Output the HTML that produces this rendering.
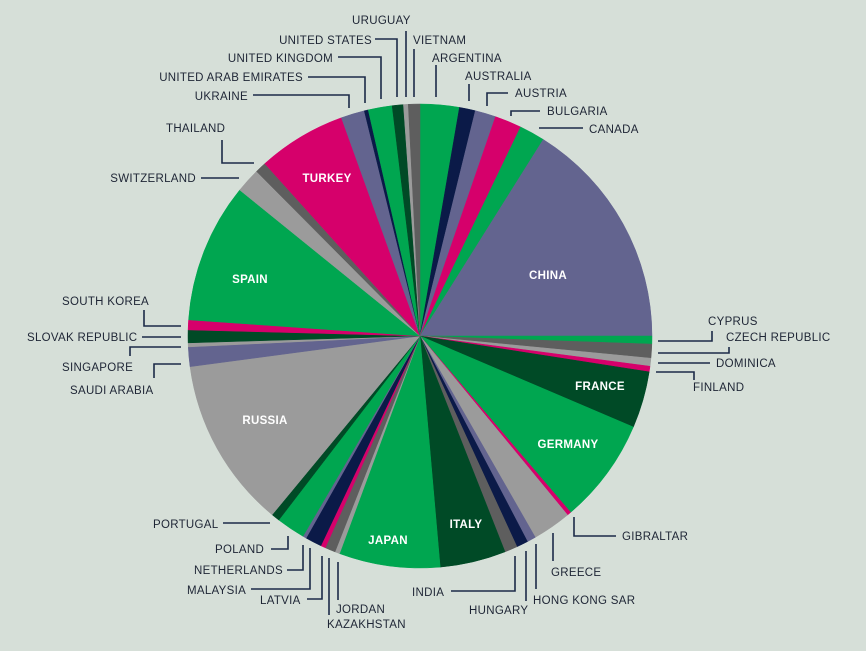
<!DOCTYPE html>
<html><head><meta charset="utf-8"><style>
html,body{margin:0;padding:0;background:#d6dfd8;}
svg{display:block}
text{font-family:"Liberation Sans",sans-serif;font-size:11.5px;fill:#1e2535;letter-spacing:0.3px;}
.in{fill:#fff;font-weight:bold;font-size:11.5px;text-anchor:middle}
line,polyline{stroke:#1c2a48;stroke-width:1.6;fill:none}
</style></head><body>
<svg id="s" width="866" height="651" viewBox="0 0 866 651" xmlns="http://www.w3.org/2000/svg">
<rect width="866" height="651" fill="#d6dfd8"/>
<g id="pie"></g>
<g>
<text class="in" x="327" y="182">TURKEY</text>
<text class="in" x="250" y="283">SPAIN</text>
<text class="in" x="548" y="279">CHINA</text>
<text class="in" x="600" y="390">FRANCE</text>
<text class="in" x="568" y="448">GERMANY</text>
<text class="in" x="265" y="424">RUSSIA</text>
<text class="in" x="466" y="528">ITALY</text>
<text class="in" x="388" y="544">JAPAN</text>
</g>
<g>
<text x="352" y="24">URUGUAY</text><line x1="406" y1="31" x2="406" y2="97"/>
<text x="372" y="44" text-anchor="end">UNITED STATES</text><polyline points="375,39 397,39 397,97"/>
<text x="413" y="44">VIETNAM</text><line x1="414" y1="49" x2="414" y2="97"/>
<text x="333" y="62" text-anchor="end">UNITED KINGDOM</text><polyline points="338,57 381,57 381,99"/>
<text x="432" y="62">ARGENTINA</text><line x1="436" y1="65" x2="436" y2="97"/>
<text x="303" y="81" text-anchor="end">UNITED ARAB EMIRATES</text><polyline points="308,77 365,77 365,103"/>
<text x="465" y="80">AUSTRALIA</text><line x1="469" y1="84" x2="469" y2="101"/>
<text x="248" y="100" text-anchor="end">UKRAINE</text><polyline points="253,95 349,95 349,108"/>
<text x="515" y="97">AUSTRIA</text><polyline points="508,93 487,93 487,106"/>
<text x="547" y="115">BULGARIA</text><polyline points="540,111 511,111 511,116"/>
<text x="589" y="133">CANADA</text><line x1="539" y1="128" x2="583" y2="128"/>
<text x="166" y="132">THAILAND</text><polyline points="222,140 222,163 254,163"/>
<text x="196" y="182" text-anchor="end">SWITZERLAND</text><line x1="201" y1="178" x2="239" y2="178"/>
<text x="62" y="305">SOUTH KOREA</text><polyline points="144,310 144,326 181,326"/>
<text x="27" y="341">SLOVAK REPUBLIC</text><line x1="142" y1="337" x2="181" y2="337"/>
<text x="62" y="371">SINGAPORE</text><polyline points="130,356 130,347 181,347"/>
<text x="70" y="394">SAUDI ARABIA</text><polyline points="154,378 154,364 181,364"/>
<text x="708" y="325">CYPRUS</text><polyline points="712,331 712,341 658,341"/>
<text x="726" y="341">CZECH REPUBLIC</text><polyline points="729,347 729,353 658,353"/>
<text x="716" y="367">DOMINICA</text><line x1="658" y1="363" x2="710" y2="363"/>
<text x="693" y="391">FINLAND</text><polyline points="656,372 694,372 694,380"/>
<text x="622" y="540">GIBRALTAR</text><polyline points="574,517 574,536 616,536"/>
<text x="551" y="576">GREECE</text><line x1="553" y1="533" x2="553" y2="561"/>
<text x="533" y="604">HONG KONG SAR</text><line x1="536" y1="544" x2="536" y2="589"/>
<text x="469" y="614">HUNGARY</text><line x1="526" y1="551" x2="526" y2="601"/>
<text x="412" y="596">INDIA</text><polyline points="451,591 515,591 515,556"/>
<text x="336" y="613">JORDAN</text><line x1="338" y1="562" x2="338" y2="600"/>
<text x="327" y="628">KAZAKHSTAN</text><line x1="329" y1="558" x2="329" y2="615"/>
<text x="260" y="604">LATVIA</text><polyline points="307,599 322,599 322,556"/>
<text x="187" y="594">MALAYSIA</text><polyline points="251,589 310,589 310,548"/>
<text x="194" y="574">NETHERLANDS</text><polyline points="287,570 303,570 303,545"/>
<text x="215" y="553">POLAND</text><polyline points="271,549 288,549 288,536"/>
<text x="153" y="528">PORTUGAL</text><line x1="223" y1="523" x2="270" y2="523"/>
</g>
</svg>
<script>
var G='#00a650',D='#004a26',L='#63648f',N='#0b1a48',P='#d6006b',A='#9b9b9b',K='#5e5e5e';
var s=[[0,9.8,G],[9.8,13.8,N],[13.8,19,L],[19,25.7,P],[25.7,32.1,G],[32.1,90,L],[90,92,G],[92,95.5,K],[95.5,97.5,A],[97.5,98.9,P],[98.9,113.1,D],[113.1,139.5,G],[139.5,140.5,P],[140.5,150.2,A],[150.2,152.4,L],[152.4,155.3,N],[155.3,158.5,K],[158.5,175,D],[175,200.3,G],[200.3,201.5,A],[201.5,204.1,K],[204.1,205.3,P],[205.3,209.4,N],[209.4,210.3,L],[210.3,217.5,G],[217.5,219.6,D],[219.6,262.4,A],[262.4,267.3,L],[267.3,268.3,A],[268.3,271.5,D],[271.5,274,P],[274,309,G],[309,315.2,A],[315.2,318,K],[318,340.2,P],[340.2,346.1,L],[346.1,347.1,N],[347.1,353.1,G],[353.1,355.9,D],[355.9,357.1,A],[357.1,360,K]];
var cx=420,cy=336,r=232,h='';
function pt(a){a=a*Math.PI/180;return (cx+r*Math.sin(a)).toFixed(2)+','+(cy-r*Math.cos(a)).toFixed(2);}
s.forEach(function(x){h+='<path d="M'+cx+','+cy+' L'+pt(x[0])+' A'+r+','+r+' 0 '+((x[1]-x[0])>180?1:0)+',1 '+pt(x[1])+' Z" fill="'+x[2]+'" stroke="'+x[2]+'" stroke-width="0.5"/>';});
document.getElementById('pie').innerHTML=h;
</script>
</body></html>
